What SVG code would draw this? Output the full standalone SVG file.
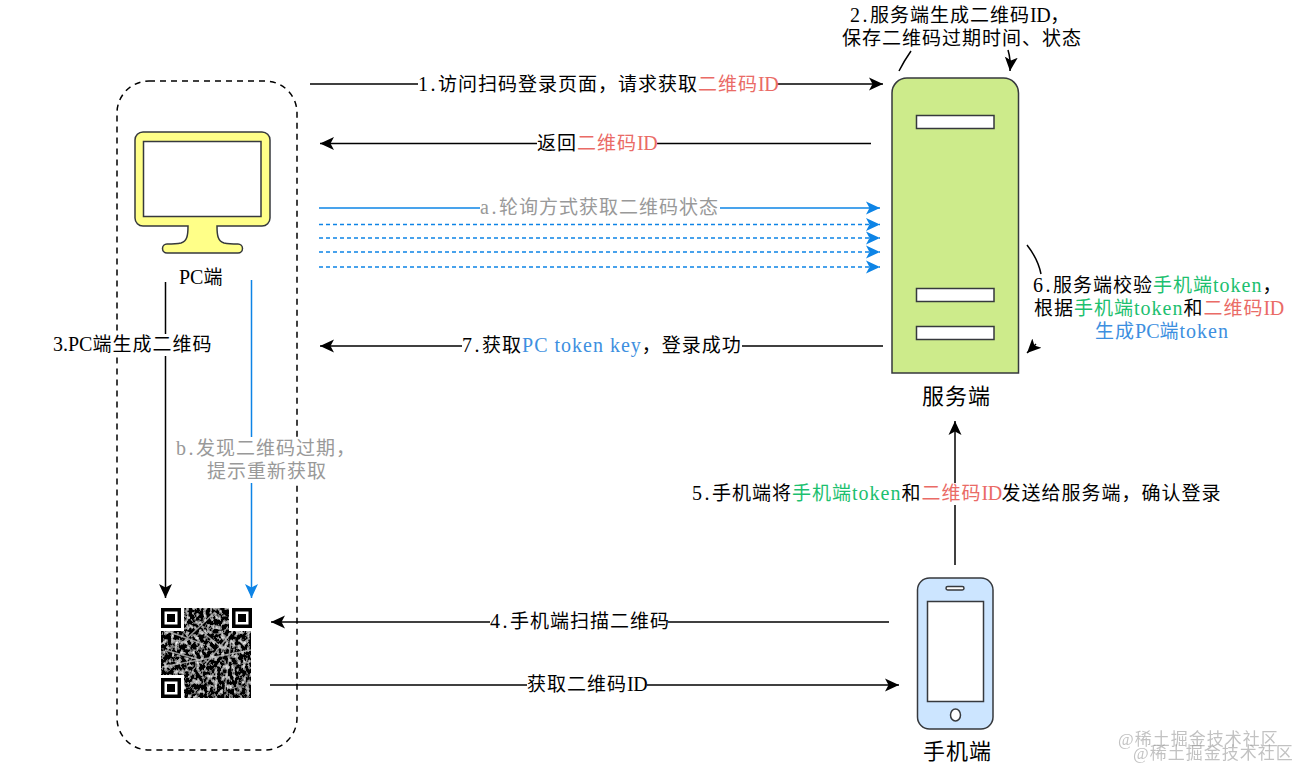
<svg xmlns="http://www.w3.org/2000/svg" width="1299" height="770" viewBox="0 0 1299 770">
<style>
text{font-family:"Liberation Serif","Noto Sans CJK SC",serif;font-size:19px;letter-spacing:1px;fill:#000;font-weight:400}
.l{font-size:20px;letter-spacing:1px}
.n{font-size:20px;letter-spacing:2.5px}
.i{font-size:20px;letter-spacing:-.5px}
.p{font-size:20px;letter-spacing:0}
.big{font-size:22px}
.r{fill:#ea6b66}.g{fill:#1cc06f}.b{fill:#3d8fe0}.y{fill:#999}
.wm{fill:#9a9a9a;font-size:17px;opacity:.6}
.k{stroke:#000;stroke-width:1.5;fill:none}
.u{stroke:#0d84e6;stroke-width:1.5;fill:none}
.d{stroke-dasharray:4 3}
.shape{stroke:#36393d;stroke-width:1.5}
.w{fill:#fff}
</style>
<defs>
<marker id="ak" markerUnits="userSpaceOnUse" markerWidth="15" markerHeight="15" refX="14" refY="7.500" orient="auto"><path d="M0 1L14 7.500L0 14L3.500 7.500Z" fill="#000"/></marker>
<marker id="au" markerUnits="userSpaceOnUse" markerWidth="15" markerHeight="15" refX="14" refY="7.500" orient="auto"><path d="M0 1L14 7.500L0 14L3.500 7.500Z" fill="#0d84e6"/></marker>
<filter id="qrn" x="0" y="0" width="1" height="1"><feTurbulence type="fractalNoise" baseFrequency="0.28 0.2" numOctaves="3" seed="11"/><feColorMatrix values="2.200 0 0 0 -1.050 2.200 0 0 0 -1.050 2.200 0 0 0 -1.050 0 0 0 0 1"/></filter>
</defs>
<rect width="1299" height="770" fill="#fff"/>
<rect id="pc-boundary" x="117" y="81" width="180" height="669" rx="32" fill="none" stroke="#000" stroke-width="1.5" stroke-dasharray="6 5"/>
<g id="connectors">
<path class="k" marker-end="url(#ak)" d="M310 84H883"/>
<path class="k" marker-end="url(#ak)" d="M871 143.500H320"/>
<path class="u" marker-end="url(#au)" d="M319 208H880"/>
<path class="u d" marker-end="url(#au)" d="M319 224.500H880"/>
<path class="u d" marker-end="url(#au)" d="M319 238H880"/>
<path class="u d" marker-end="url(#au)" d="M319 252H880"/>
<path class="u d" marker-end="url(#au)" d="M319 267H880"/>
<path class="k" marker-end="url(#ak)" d="M883 346H320"/>
<path class="k" marker-end="url(#ak)" d="M165.500 282V598"/>
<path class="u" marker-end="url(#au)" d="M251.500 280V598"/>
<path class="k" marker-end="url(#ak)" d="M889 622H271"/>
<path class="k" marker-end="url(#ak)" d="M270 685H899"/>
<path class="k" marker-end="url(#ak)" d="M955 565V421"/>
<path class="k" d="M911 51Q904 61 899 71"/>
<path class="k" marker-end="url(#ak)" d="M1008 50Q1011 60 1010 71"/>
<path class="k" d="M1027 245Q1038 259 1041 274"/>
<path class="k" marker-end="url(#ak)" d="M1036 344L1027 353"/>
</g>
<g id="pc">
<path class="shape" fill="#ffff88" d="M143 132H262a8 8 0 0 1 8 8V218a8 8 0 0 1-8 8H217c0 10 1 15 7 17c5 1 11 1 14 1a4.500 4.500 0 0 1 0 9H167a4.500 4.500 0 0 1 0-9c3 0 9 0 14-1c6-2 7-7 7-17H143a8 8 0 0 1-8-8V140a8 8 0 0 1 8-8Z"/>
<rect class="shape w" x="143.500" y="141.500" width="117.500" height="75"/>
<text x="179" y="284"><tspan class="p">PC</tspan>端</text>
</g>
<g id="qr">
<rect x="161" y="608" width="90" height="90" filter="url(#qrn)"/>
<g fill="none" stroke="#c8c8c8" stroke-width="1.500" opacity=".75">
<path d="M162 667L251 650M170 632L205 645M180 645L215 612M225 690L231 640M205 665L240 622M165 650L200 660M200 630L225 650"/>
</g>
<g id="finders">
<rect class="w" x="161" y="608" width="23" height="23"/><rect x="161" y="608" width="20" height="20"/><rect class="w" x="164.500" y="611.500" width="13" height="13"/><rect x="167" y="614" width="8" height="8"/>
<rect class="w" x="229" y="608" width="23" height="23"/><rect x="232" y="608" width="20" height="20"/><rect class="w" x="235.500" y="611.500" width="13" height="13"/><rect x="238" y="614" width="8" height="8"/>
<rect class="w" x="161" y="675" width="23" height="23"/><rect x="161" y="678" width="20" height="20"/><rect class="w" x="164.500" y="681.500" width="13" height="13"/><rect x="167" y="684" width="8" height="8"/>
</g>
</g>
<g id="server">
<path class="shape" fill="#cdeb8b" d="M892 373V93a15 15 0 0 1 15-15H1003.500a15 15 0 0 1 15 15V373Z"/>
<rect class="shape w" x="916.500" y="115.500" width="77.500" height="13"/>
<rect class="shape w" x="916.500" y="288.500" width="77.500" height="13"/>
<rect class="shape w" x="916.500" y="326.500" width="77.500" height="13"/>
<text class="big" x="922" y="404">服务端</text>
</g>
<g id="phone">
<rect class="shape" fill="#cce5ff" x="917.500" y="578" width="75.500" height="151" rx="12"/>
<rect class="shape w" x="927.500" y="601.500" width="56" height="100"/>
<rect class="shape w" x="946" y="586.500" width="18" height="3.500" rx="1.700"/>
<ellipse class="shape w" cx="955.500" cy="715" rx="5" ry="6"/>
<text class="big" x="923" y="759">手机端</text>
</g>
<g id="labels">
<g fill="#fff">
<rect x="418" y="74" width="359" height="22"/><rect x="537" y="133" width="120" height="22"/><rect x="480" y="197" width="240" height="22"/><rect x="462" y="335" width="280" height="22"/><rect x="53" y="334" width="160" height="22"/><rect x="176" y="437" width="170" height="46"/><rect x="490" y="611" width="178" height="22"/><rect x="527" y="674" width="120" height="22"/><rect x="692" y="483" width="530" height="22"/>
</g>
<text x="418" y="91"><tspan class="n">1.</tspan>访问扫码登录页面&#xFF0C;请求获取<tspan class="r">二维码<tspan class="i">ID</tspan></tspan></text>
<text x="537" y="150">返回<tspan class="r">二维码<tspan class="i">ID</tspan></tspan></text>
<text class="y" x="480" y="214"><tspan class="n">a.</tspan>轮询方式获取二维码状态</text>
<text x="462" y="352"><tspan class="n">7.</tspan>获取<tspan class="b l">PC token key</tspan>&#xFF0C;登录成功</text>
<text x="53" y="351"><tspan class="p">3.PC</tspan>端生成二维码</text>
<text class="y" x="176" y="455"><tspan class="n">b.</tspan>发现二维码过期&#xFF0C;</text>
<text class="y" x="207" y="478">提示重新获取</text>
<text x="490" y="628"><tspan class="n">4.</tspan>手机端扫描二维码</text>
<text x="527" y="691">获取二维码<tspan class="i">ID</tspan></text>
<text x="692" y="500"><tspan class="n">5.</tspan>手机端将<tspan class="g">手机端<tspan class="l">token</tspan></tspan>和<tspan class="r">二维码<tspan class="i">ID</tspan></tspan>发送给服务端&#xFF0C;确认登录</text>
<text x="850" y="22"><tspan class="n">2.</tspan>服务端生成二维码<tspan class="i">ID</tspan>&#xFF0C;</text>
<text x="842" y="45">保存二维码过期时间、状态</text>
<text x="1033" y="292"><tspan class="n">6.</tspan>服务端校验<tspan class="g">手机端<tspan class="l">token</tspan></tspan>&#xFF0C;</text>
<text x="1034" y="315">根据<tspan class="g">手机端<tspan class="l">token</tspan></tspan>和<tspan class="r">二维码<tspan class="i">ID</tspan></tspan></text>
<text class="b" x="1095" y="338">生成<tspan class="p">PC</tspan>端<tspan class="l">token</tspan></text>
</g>
<g id="watermarks">
<text class="wm" x="1118" y="745">@稀土掘金技术社区</text>
<text class="wm" x="1133" y="759">@稀土掘金技术社区</text>
</g>
</svg>
